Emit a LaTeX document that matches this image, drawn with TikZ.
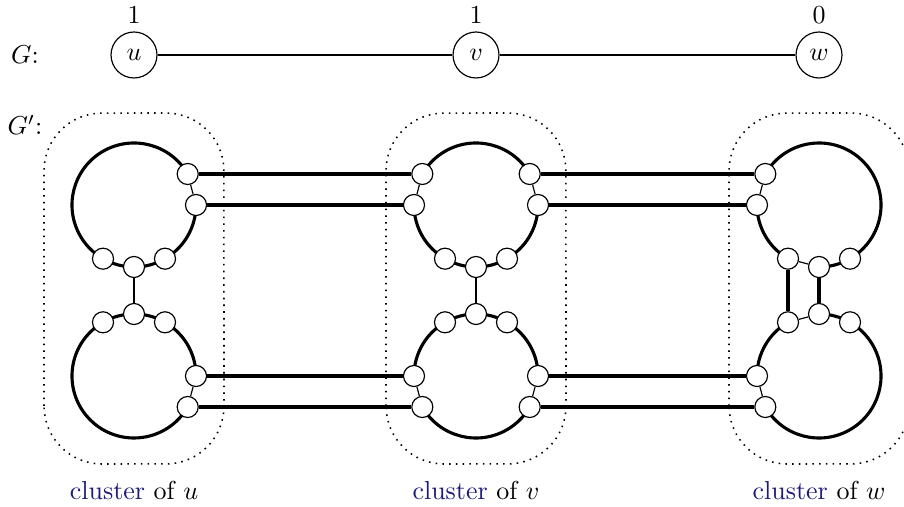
\documentclass[tikz,border=0pt]{standalone}
\definecolor{clusterblue}{RGB}{28,28,120}
\begin{document}
\begin{tikzpicture}[x=0.385pt,y=0.385pt,
  gnode/.style={circle,draw,line width=0.45pt,minimum size=17.7pt,inner sep=0pt},
  port/.style={circle,draw,fill=white,line width=0.45pt,minimum size=8.1pt,inner sep=0pt},
  thickline/.style={line width=1.2pt},
  thinline/.style={line width=0.45pt},
  clusterbox/.style={dotted,line width=0.6pt},
  clab/.style={inner sep=0pt}]
\useasboundingbox (0,0) rectangle (904,507);
% ---- graph G ----
\node (Glab) at (25,452) {$G$:};
\node[gnode] (u) at (134,452) {$u$};
\node[gnode] (v) at (476,452) {$v$};
\node[gnode] (w) at (819,452) {$w$};
\node (lu) at (134,492) {$1$};
\node (lv) at (476,492) {$1$};
\node (lw) at (819,492) {$0$};
\draw[thinline] (u) -- (v) -- (w);
\node (Gplab) at (25,382) {$G'$:};
% ---- cluster boxes ----
\foreach \cx in {134,476,819}
  \draw[clusterbox] (\cx-90,101) -- (\cx-90,336)
     arc[start angle=180,end angle=90,radius=22.3pt] -- (\cx+32,394)
     arc[start angle=90,end angle=0,radius=22.3pt] -- (\cx+90,101)
     arc[start angle=0,end angle=-90,radius=22.3pt] -- (\cx-32,43)
     arc[start angle=270,end angle=180,radius=22.3pt] -- cycle;
% ---- cluster centres ----
\coordinate (uT) at (134,302); \coordinate (uB) at (134,131);
\coordinate (vT) at (476,302); \coordinate (vB) at (476,131);
\coordinate (wT) at (819,302); \coordinate (wB) at (819,131);
% ---- thick arcs ----
\draw[thickline] ([shift={(30:62)}]uT) arc[start angle=30,end angle=360,radius=23.87pt];
\draw[thickline] ([shift={(0:62)}]uB) arc[start angle=0,end angle=330,radius=23.87pt];
\draw[thickline] ([shift={(30:62)}]vT) arc[start angle=30,end angle=150,radius=23.87pt];
\draw[thickline] ([shift={(180:62)}]vT) arc[start angle=180,end angle=360,radius=23.87pt];
\draw[thickline] ([shift={(0:62)}]vB) arc[start angle=0,end angle=180,radius=23.87pt];
\draw[thickline] ([shift={(210:62)}]vB) arc[start angle=210,end angle=330,radius=23.87pt];
\draw[thickline] ([shift={(180:62)}]wT) arc[start angle=180,end angle=240,radius=23.87pt];
\draw[thickline] ([shift={(270:62)}]wT) arc[start angle=270,end angle=510,radius=23.87pt];
\draw[thickline] ([shift={(120:62)}]wB) arc[start angle=120,end angle=180,radius=23.87pt];
\draw[thickline] ([shift={(210:62)}]wB) arc[start angle=210,end angle=450,radius=23.87pt];
% ---- port nodes ----
\foreach \a in {30,0,240,270,300} \node[port] (uT\a) at ([shift={(\a:62)}]uT) {};
\foreach \a in {0,330,60,90,120} \node[port] (uB\a) at ([shift={(\a:62)}]uB) {};
\foreach \a in {30,0,150,180,240,270,300} \node[port] (vT\a) at ([shift={(\a:62)}]vT) {};
\foreach \a in {0,330,180,210,60,90,120} \node[port] (vB\a) at ([shift={(\a:62)}]vB) {};
\foreach \a in {150,180,240,270,300} \node[port] (wT\a) at ([shift={(\a:62)}]wT) {};
\foreach \a in {180,210,60,90,120} \node[port] (wB\a) at ([shift={(\a:62)}]wB) {};
% ---- thin chords ----
\draw[thinline] (uT30) -- (uT0);
\draw[thinline] (uB0) -- (uB330);
\draw[thinline] (vT30) -- (vT0);
\draw[thinline] (vT150) -- (vT180);
\draw[thinline] (vB0) -- (vB330);
\draw[thinline] (vB180) -- (vB210);
\draw[thinline] (wT150) -- (wT180);
\draw[thinline] (wT240) -- (wT270);
\draw[thinline] (wB180) -- (wB210);
\draw[thinline] (wB90) -- (wB120);
% ---- vertical links ----
\draw[thinline] (uT270) -- (uB90);
\draw[thinline] (vT270) -- (vB90);
\draw[thickline] (wT240) -- (wB120);
\draw[thickline] (wT270) -- (wB90);
% ---- horizontal links ----
\draw[thickline] (uT30) -- (vT150);
\draw[thickline] (uT0) -- (vT180);
\draw[thickline] (vT30) -- (wT150);
\draw[thickline] (vT0) -- (wT180);
\draw[thickline] (uB0) -- (vB180);
\draw[thickline] (uB330) -- (vB210);
\draw[thickline] (vB0) -- (wB180);
\draw[thickline] (vB330) -- (wB210);
% ---- cluster labels ----
\node (cu) at (134,17) {\textcolor{clusterblue}{cluster} of $u$};
\node (cv) at (476,17) {\textcolor{clusterblue}{cluster} of $v$};
\node (cw) at (819,17) {\textcolor{clusterblue}{cluster} of $w$};
\end{tikzpicture}
\end{document}
